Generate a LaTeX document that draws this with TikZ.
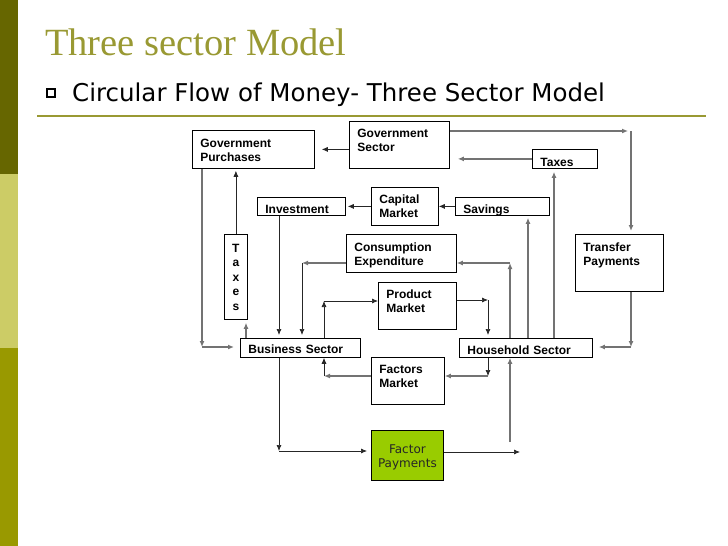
\documentclass[tikz,border=0pt]{standalone}
\usepackage{fontspec}
\setmainfont{Liberation Sans}
\newfontfamily\titlefont{Liberation Serif}
\newfontfamily\verdfont{DejaVu Sans}
\usetikzlibrary{arrows.meta}
\definecolor{barA}{RGB}{102,102,0}
\definecolor{barB}{RGB}{204,204,102}
\definecolor{barC}{RGB}{153,153,0}
\definecolor{titleol}{RGB}{153,153,51}
\definecolor{fpgreen}{RGB}{153,204,0}

\begin{document}
\begin{tikzpicture}[x=1pt,y=1pt]
\tikzstyle{every node}+=[inner sep=0pt]
\tikzstyle{box}=[draw, line width=0.8pt, anchor=north west, align=left, inner xsep=8pt, font=\bfseries\fontsize{12}{14.4}\selectfont]
\tikzstyle{blk}=[black!85, line width=0.7pt, -{Latex[length=6pt,width=5pt]}]
\tikzstyle{gry}=[black!55, line width=1.2pt, -{Latex[length=6pt,width=5pt]}]
\useasboundingbox (0,0) rectangle (728,-546);
% side bar and heading
\fill[barA] (0,0) rectangle (18,-174);
\fill[barB] (0,-174) rectangle (18,-348);
\fill[barC] (0,-348) rectangle (18,-546);
\node[anchor=base west, text=titleol, font=\titlefont\fontsize{38.5}{41}\selectfont] (ttl) at (45,-55) {Three sector Model};
\draw[line width=2pt] (47,-89) rectangle (55,-97);
\node[anchor=base west, font=\verdfont\fontsize{24.5}{28}\selectfont] (sub) at (72,-101) {Circular Flow of Money- Three Sector Model};
\draw[titleol, line width=1.5pt] (37,-116) -- (706,-116);
% boxes
\node[box, text width=106pt, text height=17pt, text depth=21pt] (gp) at (192,-130) {Government\\Purchases};
\node[box, text width=84pt, text height=16pt, text depth=31pt] (gs) at (349,-121) {Government\\Sector};
\node[box, text width=49pt, text height=17pt, text depth=2pt] (tx) at (532,-149) {Taxes};
\node[box, text width=72pt, text height=16pt, text depth=2pt] (inv) at (257,-197) {Investment};
\node[box, text width=51pt, text height=16pt, text depth=22pt] (cm) at (371,-187) {Capital\\Market};
\node[box, text width=78pt, text height=16pt, text depth=2pt] (sav) at (455,-197) {Savings};
\node[box, align=center, inner xsep=4pt, text width=15pt, text height=18pt, text depth=67pt] (txv) at (224,-234) {T\\a\\x\\e\\s};
\node[box, text width=94pt, text height=17pt, text depth=21pt] (ce) at (346,-234) {Consumption\\Expenditure};
\node[box, text width=72pt, text height=17pt, text depth=40pt] (tp) at (575,-234) {Transfer\\Payments};
\node[box, text width=62pt, text height=16pt, text depth=31pt] (pm) at (378,-282) {Product\\Market};
\node[box, text width=104pt, text height=15pt, text depth=4pt] (bs) at (240,-338) {Business Sector};
\node[box, text width=117pt, text height=16pt, text depth=3pt] (hs) at (459,-338) {Household Sector};
\node[box, text width=57pt, text height=16pt, text depth=31pt] (fm) at (371,-357) {Factors\\Market};
\node[box, fill=fpgreen, text=black!85, align=center, inner xsep=4pt, text width=64pt, text height=23pt, text depth=27pt, font=\verdfont\fontsize{12}{14}\selectfont] (fp) at (371,-430) {Factor\\Payments};
% government sector flows
\draw[blk, shorten >=7pt] (gs.west |- gp.east) -- (gp.east);
\coordinate (k1) at (631,-131);
\draw[gry, shorten >=3pt] (gs.east |- k1) -- (k1);
\draw[gry, shorten >=3pt] (k1) -- (tp.north -| k1);
\draw[gry, shorten >=8pt] (tx.west) -- (gs.east |- tx.west);
% household upward flows
\coordinate (k2) at (554,-250);
\draw[gry, shorten >=3pt] (hs.north -| k2) -- (tx.south -| k2);
\coordinate (k3) at (528,-250);
\draw[gry, shorten >=2pt] (hs.north -| k3) -- (sav.south -| k3);
\coordinate (k4) at (510,-263);
\draw[gry] (hs.north -| k4) -- (k4);
\draw[gry] (k4) -- (ce.east |- k4);
% product market to household
\coordinate (k5) at (488,-300);
\draw[blk] (pm.east |- k5) -- (k5);
\draw[blk, shorten >=3pt] (k5) -- (hs.north -| k5);
% transfer payments to household
\coordinate (k6) at (631,-347);
\draw[gry] (tp.south -| k6) -- (k6);
\draw[gry, shorten >=6pt] (k6) -- (hs.east |- k6);
% household to factors market to business
\coordinate (k7) at (488,-376);
\draw[blk] (hs.south -| k7) -- (k7);
\draw[gry] (k7) -- (fm.east |- k7);
\coordinate (k8) at (324,-376);
\draw[gry] (fm.west |- k8) -- (k8);
\draw[blk] (k8) -- (bs.south -| k8);
% business to factor payments to household
\coordinate (k9) at (279,-451);
\draw[blk] (bs.south -| k9) -- (k9);
\draw[blk, shorten >=4pt] (k9) -- (fp.west |- k9);
\coordinate (k10) at (520,-452);
\draw[blk] (fp.east |- k10) -- (k10);
\coordinate (k11) at (510,-442);
\draw[gry] (k11) -- (hs.south -| k11);
% left side
\coordinate (k12) at (202,-347);
\draw[gry] (gp.south -| k12) -- (k12);
\draw[gry, shorten >=6pt] (k12) -- (bs.west |- k12);
\draw[blk, shorten >=2pt] (txv.north) -- (gp.south -| txv.north);
\coordinate (k13) at (246,-330);
\draw[gry, shorten >=3pt] (bs.north -| k13) -- (txv.south -| k13);
% investment and consumption
\draw[blk, shorten >=3pt] (inv.south -| k9) -- (bs.north -| k9);
\coordinate (k14) at (302,-263);
\draw[gry] (ce.west |- k14) -- (k14);
\draw[blk, shorten >=3pt] (k14) -- (bs.north -| k14);
\coordinate (k15) at (324,-301);
\draw[blk] (bs.north -| k15) -- (k15);
\draw[blk] (k15) -- (pm.west |- k15);
% capital market
\draw[blk, shorten >=2pt] (cm.west) -- (inv.east);
\draw[blk] (sav.west) -- (cm.east);
\end{tikzpicture}
\end{document}
